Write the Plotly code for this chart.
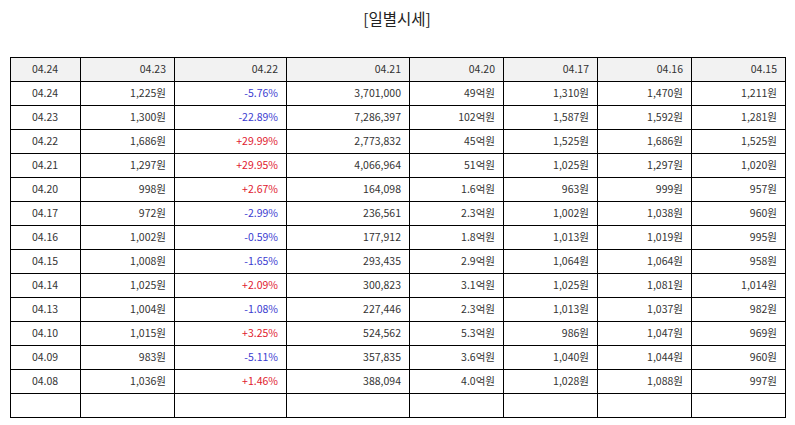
import plotly.graph_objects as go

HEADER = ["04.24", "04.23", "04.22", "04.21", "04.20", "04.17", "04.16", "04.15"]

DATES = ["04.24", "04.23", "04.22", "04.21", "04.20", "04.17", "04.16",
         "04.15", "04.14", "04.13", "04.10", "04.09", "04.08", ""]
CLOSE = ["1,225원", "1,300원", "1,686원", "1,297원", "998원", "972원", "1,002원",
         "1,008원", "1,025원", "1,004원", "1,015원", "983원", "1,036원", ""]
CHANGE = ["-5.76%", "-22.89%", "+29.99%", "+29.95%", "+2.67%", "-2.99%", "-0.59%",
          "-1.65%", "+2.09%", "-1.08%", "+3.25%", "-5.11%", "+1.46%", ""]
VOLUME = ["3,701,000", "7,286,397", "2,773,832", "4,066,964", "164,098", "236,561",
          "177,912", "293,435", "300,823", "227,446", "524,562", "357,835", "388,094", ""]
AMOUNT = ["49억원", "102억원", "45억원", "51억원", "1.6억원", "2.3억원", "1.8억원",
          "2.9억원", "3.1억원", "2.3억원", "5.3억원", "3.6억원", "4.0억원", ""]
OPEN = ["1,310원", "1,587원", "1,525원", "1,025원", "963원", "1,002원", "1,013원",
        "1,064원", "1,025원", "1,013원", "986원", "1,040원", "1,028원", ""]
HIGH = ["1,470원", "1,592원", "1,686원", "1,297원", "999원", "1,038원", "1,019원",
        "1,064원", "1,081원", "1,037원", "1,047원", "1,044원", "1,088원", ""]
LOW = ["1,211원", "1,281원", "1,525원", "1,020원", "957원", "960원", "995원",
       "958원", "1,014원", "982원", "969원", "960원", "997원", ""]

TEXT = "#333333"
UP = "#e0202e"
DOWN = "#3b3bd0"

# the page body has an 8px margin, so the figure is drawn at (8, 8)
OFFSET = 8


def change_color(v):
    if v.startswith("+"):
        return UP
    if v.startswith("-"):
        return DOWN
    return TEXT


columns = [DATES, CLOSE, CHANGE, VOLUME, AMOUNT, OPEN, HIGH, LOW]
colors = [[TEXT] * len(DATES) for _ in columns]
colors[2] = [change_color(v) for v in CHANGE]

fig = go.Figure(
    go.Table(
        columnwidth=[70, 94, 112, 123, 94, 94, 94, 94],
        header=dict(
            values=HEADER,
            fill_color="#f2f2f2",
            line=dict(color="black", width=1),
            align=["center"] + ["right"] * 7,
            font=dict(family="Noto Sans CJK KR", size=10.5, color=TEXT),
            height=24,
        ),
        cells=dict(
            values=columns,
            fill_color="white",
            line=dict(color="black", width=1),
            align=["center"] + ["right"] * 7,
            font=dict(family="Noto Sans CJK KR", size=10.5, color=colors),
            height=24,
        ),
    )
)

W, H = 795 - OFFSET, 425 - OFFSET
fig.update_layout(
    width=W,
    height=H,
    margin=dict(l=10 - OFFSET, r=10, t=57 - OFFSET, b=0),
    paper_bgcolor="white",
    title=dict(
        text="[일별시세]",
        x=(397 - OFFSET) / W,
        xanchor="center",
        y=1 - (20 - OFFSET) / H,
        yanchor="middle",
        font=dict(family="Noto Sans CJK KR", size=15.5, color="#222222"),
    ),
)

fig.write_html("out.html")
